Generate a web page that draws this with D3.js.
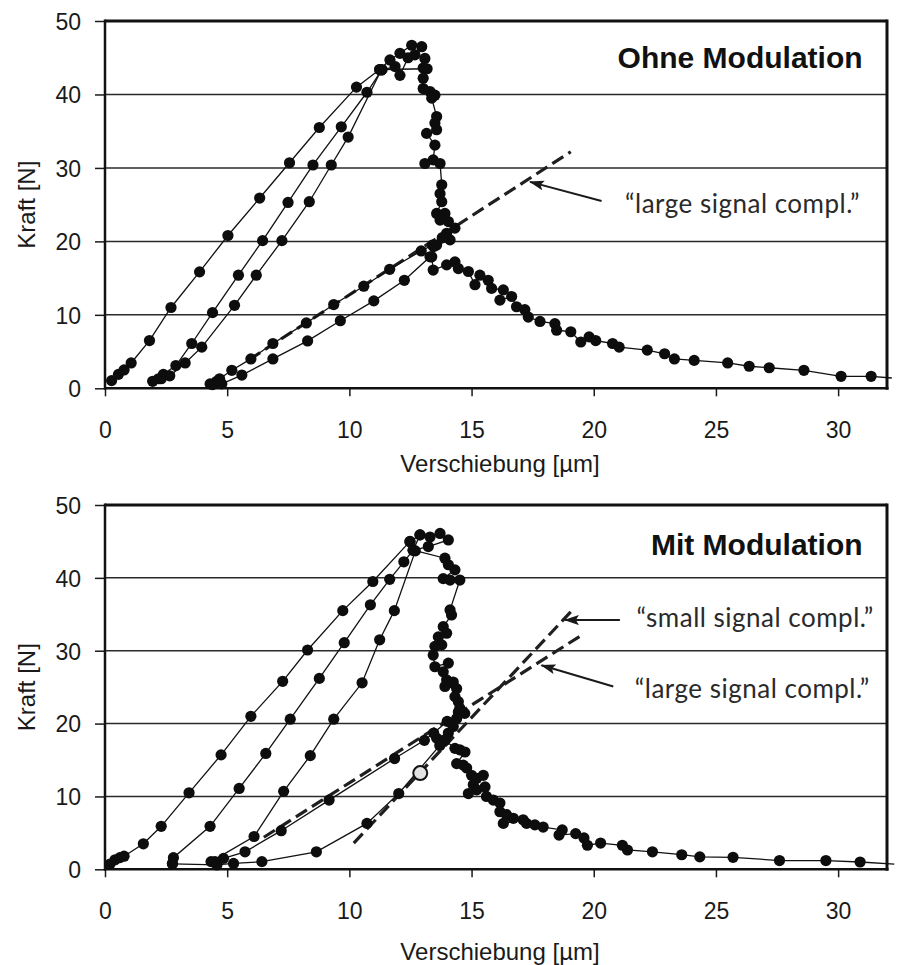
<!DOCTYPE html>
<html>
<head>
<meta charset="utf-8">
<script src="https://cdn.jsdelivr.net/npm/d3@7"></script>
<style>
  body { margin: 0; background: #fff; }
  svg { display: block; font-family: "Liberation Sans", Arial, sans-serif; }
</style>
</head>
<body>
<svg id="chart"></svg>
<script>
// ticks and labels
const xTicks = [0, 5, 10, 15, 20, 25, 30];
const yTicks = [0, 10, 20, 30, 40, 50];
const gridValues = [10, 20, 30, 40];
const xTitle = 'Verschiebung [µm]';
const yTitle = 'Kraft [N]';
const panelTitles = ['Ohne Modulation', 'Mit Modulation'];

// --- Ohne Modulation: [Verschiebung, Kraft]
const topLoadA = [[0.27,1.05],[0.55,1.9],[0.78,2.5],[1.07,3.45],[1.82,6.5],[2.70,11.0],[3.87,15.85],[5.03,20.8],[6.33,25.9],[7.55,30.7],[8.77,35.5],[10.29,41.0],[11.24,43.4]];
const topLoadB = [[1.95,0.95],[2.19,1.3],[2.39,1.9],[2.9,3.1],[3.55,6.1],[4.4,10.3],[5.46,15.4],[6.45,20.1],[7.49,25.3],[8.51,30.4],[9.67,35.6],[10.72,40.3],[11.34,43.4],[13.18,43.5]];
const topLoadC = [[2.3,1.3],[2.65,1.7],[3.28,3.45],[3.96,5.6],[5.30,11.3],[6.19,15.4],[7.24,20.1],[8.36,25.4],[9.26,30.4],[9.95,34.2],[11.3,43.3],[11.87,43.8],[12.07,42.6],[12.4,45.0]];
const topPeak = [[11.24,43.4],[11.66,44.7],[12.07,45.6],[12.55,46.7],[12.96,46.5],[12.68,45.4],[13.09,44.9],[13.02,43.6],[13.02,42.2],[13.02,40.8],[13.3,40.4],[13.5,39.9],[13.37,39.5],[13.57,37.0],[13.5,36.1],[13.57,35.2],[13.16,34.7],[13.5,33.1],[13.43,31.1],[13.09,30.6],[13.71,30.6],[13.78,27.7],[13.71,26.5],[13.78,25.4],[13.57,23.8],[13.91,23.8],[13.71,22.9],[14.05,22.7],[14.32,21.8],[13.98,21.1],[14.12,20.2],[13.57,19.5],[13.37,17.9],[13.43,16.1],[13.98,16.8],[14.32,17.2],[14.46,16.3],[14.87,15.9],[15.14,14.1],[15.34,15.4],[15.68,14.7],[15.82,13.6],[16.3,13.4],[16.16,12.0],[16.64,12.5],[16.84,11.1],[17.18,10.7],[17.32,9.7],[17.8,9.1],[18.41,8.8],[18.48,7.9],[19.06,7.7],[19.47,6.3],[19.81,7.0],[20.08,6.5],[20.77,6.1],[21.04,5.6],[22.19,5.2],[22.9,4.7],[23.3,4.0],[24.11,3.8],[25.48,3.45],[26.36,3.0],[27.18,2.8],[28.6,2.45],[30.12,1.63],[31.35,1.63]];
const topTail = [[31.35,1.63],[32.2,1.4]];
const topReloadD = [[4.3,0.6],[4.55,0.9],[4.69,1.3],[5.19,2.45],[5.97,4.0],[6.87,6.1],[8.24,8.9],[9.36,11.4],[10.59,13.9],[11.65,16.2],[12.94,18.7],[13.4,19.5],[13.8,20.5]];
const topReloadE = [[4.4,0.5],[4.78,0.6],[5.6,1.8],[6.87,4.0],[8.29,6.45],[9.63,9.2],[11.0,11.9],[12.25,14.7],[13.3,17.9],[13.45,19.3]];
const topLargeFit = [[5.9,3.9],[19.06,32.2]];

// --- Mit Modulation
const botLoadA = [[0.2,0.7],[0.41,1.3],[0.61,1.6],[0.78,1.8],[1.57,3.5],[2.30,5.9],[3.44,10.5],[4.75,15.7],[5.97,21.0],[7.27,25.8],[8.29,30.1],[9.73,35.5],[10.96,39.5],[12.48,45.0]];
const botLoadB = [[2.76,0.8],[2.8,1.6],[4.3,5.9],[5.49,11.1],[6.58,15.9],[7.58,20.6],[8.77,26.2],[9.79,31.1],[10.86,36.3],[11.65,39.8],[12.23,42.2],[12.61,43.8],[12.89,45.9]];
const botLoadC = [[4.34,1.05],[6.1,4.5],[7.31,10.7],[8.40,15.6],[9.36,20.6],[10.52,25.6],[11.24,31.5],[11.84,35.5],[12.7,43.7]];
const botPeak = [[12.48,44.96],[12.89,45.9],[13.3,45.6],[13.71,46.1],[14.05,45.2],[13.23,44.3],[12.61,43.8],[13.91,42.7],[14.05,41.8],[14.32,41.1],[13.84,39.9],[14.12,39.7],[14.52,39.7],[14.12,35.6],[14.18,34.9],[13.84,33.3],[13.98,32.4],[13.64,31.9],[13.78,30.8],[13.5,30.6],[13.43,29.4],[13.5,27.8],[14.05,28.3],[13.84,27.1],[13.98,26.0],[14.25,25.7],[13.91,25.1],[14.39,24.8],[14.32,23.7],[14.46,23.0],[14.52,22.1],[14.46,21.6],[14.72,21.4],[14.39,20.7],[14.25,19.6],[14.05,18.7],[13.57,18.0],[13.91,17.7],[14.32,16.6],[14.52,16.4],[14.73,16.1],[14.39,14.5],[14.66,14.3],[14.8,13.9],[15.0,12.9],[15.21,12.5],[15.48,12.9],[15.07,11.6],[15.21,10.9],[14.87,10.4],[15.55,11.3],[15.61,10.0],[15.89,9.5],[16.16,9.1],[16.16,7.9],[16.43,7.5],[16.71,7.0],[16.3,6.3],[17.11,6.8],[17.25,6.3],[17.59,6.1],[17.93,5.8],[18.71,5.4],[18.58,4.7],[19.26,4.9],[19.6,4.3],[19.74,3.3],[20.28,3.6],[21.17,3.3],[21.38,2.65],[22.4,2.4],[23.6,2.0],[24.34,1.7],[25.7,1.65],[27.6,1.2],[29.5,1.2],[30.9,1.0]];
const botTail = [[30.9,1.0],[32.3,0.7]];
const botReloadD = [[4.5,1.05],[4.85,1.5],[5.73,2.4],[7.21,5.3],[9.17,9.5],[11.85,15.2],[13.07,17.7],[13.45,18.7],[14.0,20.3]];
const botReloadE = [[2.76,0.75],[4.58,0.6],[5.26,0.8],[6.42,1.05],[8.65,2.4],[10.72,6.3],[12.02,10.4],[13.7,17.0],[14.2,20.0]];
const botOpenPoint = [[12.9,13.2]];
const botSmallFit = [[10.18,3.6],[19.19,35.8]];
const botLargeFit = [[6.5,4.4],[19.58,32.3]];

// annotations: [text, textX, textY, arrowTail, arrowTip]
const topNotes = [['\u201Clarge signal compl.\u201D', 21.28, 23.8, [20.32,25.5], [17.39,28.1]]];
const botNotes = [
  ['\u201Csmall signal compl.\u201D', 21.75, 33.3, [21.07,34.2], [18.82,34.2]],
  ['\u201Clarge signal compl.\u201D', 21.68, 23.5, [20.8,25.1], [17.86,28.0]]
];

const width = 922;
const height = 965;
const left = 105;
const right = 887;

const svg = d3.select('#chart').attr('width', width).attr('height', height);

const defs = svg.append('defs');
defs.append('marker')
  .attr('id', 'arrow')
  .attr('markerUnits', 'userSpaceOnUse')
  .attr('markerWidth', 16).attr('markerHeight', 12)
  .attr('refX', 14).attr('refY', 5)
  .attr('orient', 'auto')
  .append('path')
  .attr('d', 'M0,0 L15,5 L0,10 L3,5 z')
  .attr('fill', '#1a1a1a');

const x = d3.scaleLinear().domain([0, 32]).range([left, right]);

function drawPanel(p) {
  const y = d3.scaleLinear().domain([0, 50]).range([p.bottom, p.top]);
  const g = svg.append('g');

  // grid
  g.selectAll('line.grid')
    .data(gridValues)
    .enter()
    .append('line')
    .attr('class', 'grid')
    .attr('x1', left).attr('x2', right)
    .attr('y1', d => y(d)).attr('y2', d => y(d))
    .attr('stroke', '#2a2a2a')
    .attr('stroke-width', 1.5);

  // axes
  const yAxis = g.append('g')
    .attr('transform', 'translate(' + left + ',0)')
    .call(d3.axisLeft(y).tickValues(yTicks).tickSize(10).tickPadding(14));
  const xAxis = g.append('g')
    .attr('transform', 'translate(0,' + p.bottom + ')')
    .call(d3.axisBottom(x).tickValues(xTicks).tickSize(8).tickPadding(25));
  [yAxis, xAxis].forEach(a => {
    a.select('.domain').remove();
    a.selectAll('.tick line').attr('stroke', '#1a1a1a').attr('stroke-width', 1.5);
    a.selectAll('.tick text').attr('fill', '#1a1a1a').style('font-size', '23px');
  });
  yAxis.selectAll('.tick text').attr('dy', '0.36em');

  // frame
  g.append('line').attr('x1', left).attr('x2', right).attr('y1', p.top).attr('y2', p.top)
    .attr('stroke', '#111').attr('stroke-width', 3);
  g.append('line').attr('x1', right).attr('x2', right).attr('y1', p.top - 1.5).attr('y2', p.bottom + 1.5)
    .attr('stroke', '#111').attr('stroke-width', 3);
  g.append('line').attr('x1', left).attr('x2', left).attr('y1', p.top - 1.5).attr('y2', p.bottom + 1.5)
    .attr('stroke', '#111').attr('stroke-width', 2.5);
  g.append('line').attr('x1', left).attr('x2', right + 1.5).attr('y1', p.bottom).attr('y2', p.bottom)
    .attr('stroke', '#111').attr('stroke-width', 2.5);

  // axis titles
  g.append('text')
    .attr('transform', 'translate(35,' + ((p.top + p.bottom) / 2) + ') rotate(-90)')
    .attr('text-anchor', 'middle')
    .attr('fill', '#1a1a1a')
    .style('font-size', '24px')
    .text(yTitle);
  g.append('text')
    .attr('x', (left + right) / 2 + 4)
    .attr('y', p.xTitleY)
    .attr('text-anchor', 'middle')
    .attr('fill', '#1a1a1a')
    .style('font-size', '24px')
    .text(xTitle);

  const line = d3.line().x(d => x(d[0])).y(d => y(d[1]));

  // fit lines (dashed)
  g.selectAll('path.fit')
    .data(p.fits)
    .enter()
    .append('path')
    .attr('class', 'fit')
    .attr('d', line)
    .attr('fill', 'none')
    .attr('stroke', '#1f1f1f')
    .attr('stroke-width', 3.2)
    .attr('stroke-dasharray', '13,6');

  // measured curves
  g.selectAll('path.curve')
    .data(p.series.concat([p.tail]))
    .enter()
    .append('path')
    .attr('class', 'curve')
    .attr('d', line)
    .attr('fill', 'none')
    .attr('stroke', '#111')
    .attr('stroke-width', 1.3);

  g.selectAll('g.dots')
    .data(p.series)
    .enter()
    .append('g')
    .attr('class', 'dots')
    .selectAll('circle')
    .data(d => d)
    .enter()
    .append('circle')
    .attr('cx', d => x(d[0]))
    .attr('cy', d => y(d[1]))
    .attr('r', 5.6)
    .attr('fill', '#0d0d0d');

  g.selectAll('circle.open')
    .data(p.open)
    .enter()
    .append('circle')
    .attr('class', 'open')
    .attr('cx', d => x(d[0]))
    .attr('cy', d => y(d[1]))
    .attr('r', 7)
    .attr('fill', '#e2e2e2')
    .attr('stroke', '#111')
    .attr('stroke-width', 2);

  // annotations
  g.selectAll('line.arrow')
    .data(p.notes)
    .enter()
    .append('line')
    .attr('class', 'arrow')
    .attr('x1', d => x(d[3][0])).attr('y1', d => y(d[3][1]))
    .attr('x2', d => x(d[4][0])).attr('y2', d => y(d[4][1]))
    .attr('stroke', '#1a1a1a')
    .attr('stroke-width', 2)
    .attr('marker-end', 'url(#arrow)');

  g.selectAll('text.note')
    .data(p.notes)
    .enter()
    .append('text')
    .attr('class', 'note')
    .attr('x', d => x(d[1]))
    .attr('y', d => y(d[2]))
    .attr('fill', '#2a2a2a')
    .style('font-family', 'Lato, "Open Sans", sans-serif')
    .style('font-size', '26px')
    .style('letter-spacing', '0.5px')
    .text(d => d[0]);

  g.append('text')
    .attr('x', x(31.0))
    .attr('y', y(p.titleY))
    .attr('text-anchor', 'end')
    .attr('fill', '#111')
    .style('font-weight', 'bold')
    .style('font-size', '30px')
    .text(p.title);
}

drawPanel({
  top: 21, bottom: 388.3, xTitleY: 472, titleY: 43.6,
  title: panelTitles[0],
  series: [topLoadA, topLoadB, topLoadC, topPeak, topReloadD, topReloadE],
  tail: topTail,
  fits: [topLargeFit],
  open: [],
  notes: topNotes
});

drawPanel({
  top: 505, bottom: 869.3, xTitleY: 960, titleY: 43.1,
  title: panelTitles[1],
  series: [botLoadA, botLoadB, botLoadC, botPeak, botReloadD, botReloadE],
  tail: botTail,
  fits: [botSmallFit, botLargeFit],
  open: botOpenPoint,
  notes: botNotes
});
</script>
</body>
</html>
